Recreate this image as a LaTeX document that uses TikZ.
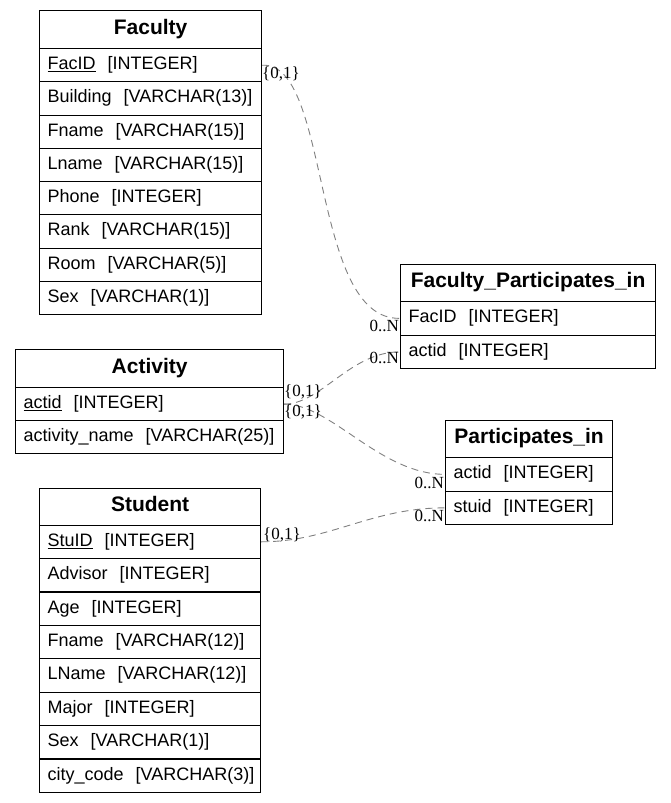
\documentclass[tikz,border=0pt]{standalone}
\usepackage{fontspec}
\setmainfont{Liberation Sans}
\newfontfamily\lblfont{Liberation Serif}
\definecolor{edgegray}{RGB}{128,128,128}
\tikzset{
  tblcell/.style={draw=black, line width=1.2pt, anchor=north west, inner xsep=8pt, inner ysep=0pt},
  hdr/.style={tblcell, font=\fontsize{21}{25}\selectfont\bfseries, align=center, text height=15pt, text depth=6pt},
  fld/.style={tblcell, font=\fontsize{18}{21}\selectfont, align=left, text height=13pt, text depth=4pt},
  lbl/.style={font=\lblfont\fontsize{17}{20}\selectfont, inner sep=0pt, text height=12pt, text depth=4pt},
  rel/.style={draw=edgegray, dash pattern=on 7pt off 5pt, line width=0.9pt}
}
\newcommand\fl[1]{\mbox{#1}}
\begin{document}
\begin{tikzpicture}[x=1pt,y=-1pt]
\useasboundingbox (0,0) rectangle (671,803);

% Faculty
\begin{scope}[every node/.append style={minimum width=222pt, text width=206pt}]
\node[hdr, minimum height=38pt] (fac) at (39,10) {Faculty};
\node[fld, minimum height=33.25pt] (facid) at (39,48) {\fl{\underline{FacID}\ \ [INTEGER]}};
\node[fld, minimum height=33.25pt] (facbuild) at (39,81.25) {\fl{Building\ \ [VARCHAR(13)]}};
\node[fld, minimum height=33.25pt] (facfname) at (39,114.5) {\fl{Fname\ \ [VARCHAR(15)]}};
\node[fld, minimum height=33.25pt] (faclname) at (39,147.75) {\fl{Lname\ \ [VARCHAR(15)]}};
\node[fld, minimum height=33.25pt] (facphone) at (39,181) {\fl{Phone\ \ [INTEGER]}};
\node[fld, minimum height=33.25pt] (facrank) at (39,214.25) {\fl{Rank\ \ [VARCHAR(15)]}};
\node[fld, minimum height=33.25pt] (facroom) at (39,247.5) {\fl{Room\ \ [VARCHAR(5)]}};
\node[fld, minimum height=33.25pt] (facsex) at (39,280.75) {\fl{Sex\ \ [VARCHAR(1)]}};
\end{scope}

% Activity
\begin{scope}[every node/.append style={minimum width=268pt, text width=252pt}]
\node[hdr, minimum height=38pt] (act) at (15,349) {Activity};
\node[fld, minimum height=33pt] (actid) at (15,387) {\fl{\underline{actid}\ \ [INTEGER]}};
\node[fld, minimum height=33pt] (actname) at (15,420) {\fl{activity\_name\ \ [VARCHAR(25)]}};
\end{scope}

% Student
\begin{scope}[every node/.append style={minimum width=221pt, text width=205pt}]
\node[hdr, minimum height=37pt] (stu) at (39,487.5) {Student};
\node[fld, minimum height=33.4pt] (stuid) at (39,524.5) {\fl{\underline{StuID}\ \ [INTEGER]}};
\node[fld, minimum height=33.4pt] (stuadv) at (39,557.9) {\fl{Advisor\ \ [INTEGER]}};
\node[fld, minimum height=33.4pt] (stuage) at (39,591.3) {\fl{Age\ \ [INTEGER]}};
\node[fld, minimum height=33.4pt] (stufname) at (39,624.7) {\fl{Fname\ \ [VARCHAR(12)]}};
\node[fld, minimum height=33.4pt] (stulname) at (39,658.1) {\fl{LName\ \ [VARCHAR(12)]}};
\node[fld, minimum height=33.4pt] (stumajor) at (39,691.5) {\fl{Major\ \ [INTEGER]}};
\node[fld, minimum height=33.4pt] (stusex) at (39,724.9) {\fl{Sex\ \ [VARCHAR(1)]}};
\node[fld, minimum height=33.4pt] (stucity) at (39,758.3) {\fl{city\_code\ \ [VARCHAR(3)]}};
\end{scope}

% Faculty_Participates_in
\begin{scope}[every node/.append style={minimum width=255pt, text width=239pt}]
\node[hdr, minimum height=37pt] (fpi) at (400,264) {Faculty\_Participates\_in};
\node[fld, minimum height=33.5pt] (fpifacid) at (400,301) {\fl{FacID\ \ [INTEGER]}};
\node[fld, minimum height=33.5pt] (fpiactid) at (400,334.5) {\fl{actid\ \ [INTEGER]}};
\end{scope}

% Participates_in
\begin{scope}[every node/.append style={minimum width=167pt, text width=151pt}]
\node[hdr, minimum height=37pt] (pi) at (445,420) {Participates\_in};
\node[fld, minimum height=33.5pt] (piactid) at (445,457) {\fl{actid\ \ [INTEGER]}};
\node[fld, minimum height=33.5pt] (pistuid) at (445,490.5) {\fl{stuid\ \ [INTEGER]}};
\end{scope}

% relationships
\draw[rel] (facid.east) .. controls +(69,-4) and +(-90,2) .. (fpifacid.west);
\draw[rel] (actid.east) .. controls +(37,0) and +(-50,0) .. (fpiactid.west);
\draw[rel] (actid.east) .. controls +(47,0) and +(-65,0) .. (piactid.west);
\draw[rel] (stuid.east) .. controls +(69,0) and +(-75,0) .. (pistuid.west);

% cardinality labels
\node[lbl, anchor=west] (l1) at (262,74) {\{0,1\}};
\node[lbl, anchor=east] (l2) at (399,327) {0..N};
\node[lbl, anchor=east] (l3) at (399,359) {0..N};
\node[lbl, anchor=west] (l4) at (284,392) {\{0,1\}};
\node[lbl, anchor=west] (l5) at (284,412) {\{0,1\}};
\node[lbl, anchor=east] (l6) at (444,484) {0..N};
\node[lbl, anchor=east] (l7) at (444,517) {0..N};
\node[lbl, anchor=west] (l8) at (263,535) {\{0,1\}};
\end{tikzpicture}
\end{document}
